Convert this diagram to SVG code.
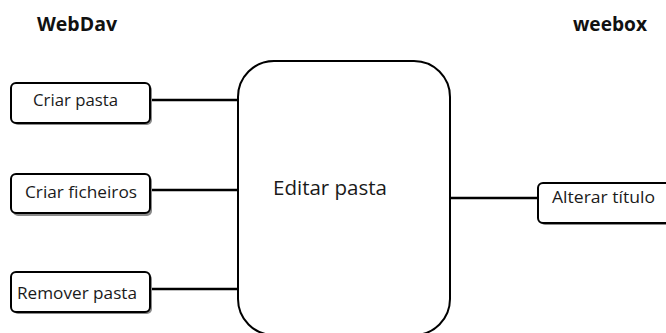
<svg xmlns="http://www.w3.org/2000/svg" width="666" height="333" viewBox="0 0 666 333">
<defs>
<style>
.box{fill:#fff;stroke:#000;stroke-width:2}
.shadow{fill:#8a8a8a}
.t{font-family:"Open Sans","Liberation Sans",sans-serif;font-size:16.5px;fill:#1a1a1a}
.h{font-family:"Open Sans","Liberation Sans",sans-serif;font-size:19px;font-weight:bold;fill:#111}
.c{stroke:#000;stroke-width:2.6;fill:none}
</style>
</defs>
<rect width="666" height="333" fill="#fff"/>
<text class="h" x="37" y="31" textLength="80" lengthAdjust="spacingAndGlyphs">WebDav</text>
<text class="h" x="573" y="31" textLength="74" lengthAdjust="spacingAndGlyphs">weebox</text>
<g id="connectors">
<line class="c" x1="150" y1="100" x2="238" y2="100"/>
<line class="c" x1="150" y1="190" x2="238" y2="190"/>
<line class="c" x1="150" y1="289" x2="238" y2="289"/>
<line class="c" x1="450" y1="198" x2="538" y2="198"/>
</g>
<g id="editar">
<rect class="box" x="238" y="61" width="212" height="274" rx="36" ry="36"/>
<text class="t" x="273" y="195" style="font-size:20.5px" textLength="114" lengthAdjust="spacingAndGlyphs">Editar pasta</text>
</g>
<g id="criar-pasta">
<rect class="shadow" x="13" y="85" width="139" height="40" rx="5"/>
<rect class="box" x="11" y="83" width="139" height="40" rx="5"/>
<text class="t" x="33" y="106" textLength="85" lengthAdjust="spacingAndGlyphs">Criar pasta</text>
</g>
<g id="criar-ficheiros">
<rect class="shadow" x="13" y="176" width="139" height="40" rx="5"/>
<rect class="box" x="11" y="174" width="139" height="39" rx="5"/>
<text class="t" x="25" y="198" textLength="112" lengthAdjust="spacingAndGlyphs">Criar ficheiros</text>
</g>
<g id="remover-pasta">
<rect class="shadow" x="13" y="274" width="139" height="40" rx="5"/>
<rect class="box" x="11" y="272" width="139" height="40" rx="5"/>
<text class="t" x="17" y="299" textLength="120" lengthAdjust="spacingAndGlyphs">Remover pasta</text>
</g>
<g id="alterar-titulo">
<rect class="shadow" x="540" y="185" width="140" height="40" rx="5"/>
<rect class="box" x="538" y="183" width="140" height="40" rx="5"/>
<text class="t" x="552" y="203" textLength="103" lengthAdjust="spacingAndGlyphs">Alterar título</text>
</g>
</svg>
